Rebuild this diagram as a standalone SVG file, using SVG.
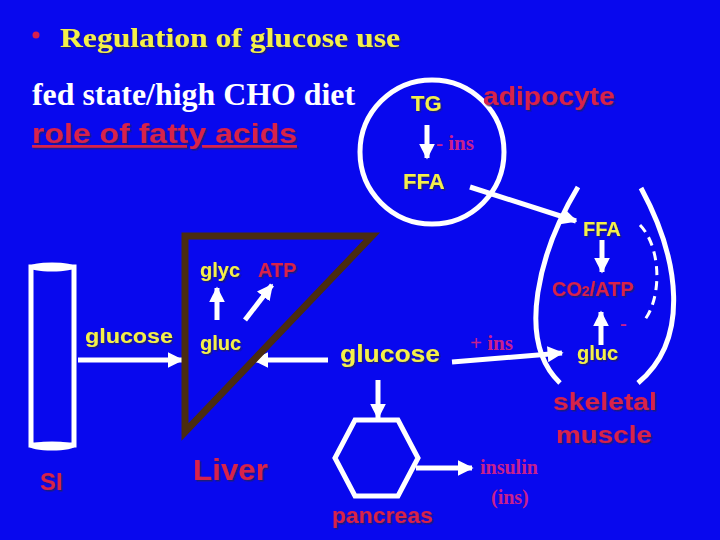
<svg xmlns="http://www.w3.org/2000/svg" width="720" height="540" viewBox="0 0 720 540">
<defs>
<marker id="ah" viewBox="0 0 10 10" refX="9" refY="5" markerWidth="3.2" markerHeight="3.2" orient="auto" markerUnits="strokeWidth"><path d="M0,0L10,5L0,10z" fill="#fff"/></marker>
<filter id="sh" x="-10%" y="-10%" width="120%" height="130%"><feDropShadow dx="1.5" dy="1.5" stdDeviation="0.3" flood-color="#202060" flood-opacity="0.8"/></filter>
</defs>
<style>
.s{font-family:"Liberation Sans",Arial,sans-serif;font-weight:bold;filter:url(#sh)}
.t{font-family:"Liberation Serif","Times New Roman",serif;font-weight:bold}
.y{fill:#f4f048}.r{fill:#d8204c}.m{fill:#c8208c}.w{fill:#fff}
.ln{stroke:#fff;stroke-width:5;fill:none}
.ar{stroke:#fff;stroke-width:5;fill:none;marker-end:url(#ah)}
</style>
<rect width="720" height="540" fill="#0808ee"/>
<g id="title">
<circle cx="36" cy="35" r="3.5" fill="#d8204c"/>
<text class="t y" x="60" y="47" font-size="27" textLength="340" lengthAdjust="spacingAndGlyphs" filter="url(#sh)">Regulation of glucose use</text>
<text class="t w" x="32" y="105" font-size="31" font-weight="normal" textLength="323" lengthAdjust="spacingAndGlyphs">fed state/high CHO diet</text>
<text class="s r" x="32" y="143" font-size="27" font-weight="normal" textLength="265" lengthAdjust="spacingAndGlyphs" text-decoration="underline">role of fatty acids</text>
</g>
<g id="connectors">
<line class="ar" x1="78" y1="360" x2="182" y2="360"/>
<line class="ar" x1="328" y1="360" x2="254" y2="360"/>
<line class="ar" x1="217" y1="320" x2="217" y2="288"/>
<line class="ar" x1="245" y1="320" x2="272" y2="285"/>
<line class="ar" x1="378" y1="380" x2="378" y2="418"/>
<line class="ar" x1="416" y1="468" x2="472" y2="468"/>
<line class="ar" x1="452" y1="362" x2="562" y2="353"/>
<line class="ar" x1="470" y1="187" x2="576" y2="221"/>
<line class="ar" x1="427" y1="125" x2="427" y2="158"/>
<line class="ar" x1="602" y1="240" x2="602" y2="272"/>
<line class="ar" x1="601" y1="345" x2="601" y2="312"/>
<path d="M640,225 C662,248 662,300 643,322" stroke="#fff" stroke-width="3" fill="none" stroke-dasharray="9,6"/>
</g>
<g id="si">
<rect x="31" y="267" width="43" height="178" class="ln"/>
<ellipse cx="52" cy="267" rx="23" ry="4.5" fill="#fff"/>
<ellipse cx="52" cy="446" rx="23" ry="4.5" fill="#fff"/>
<text class="s r" x="40" y="490" font-size="24">SI</text>
<text class="s y" x="85" y="343" font-size="20" textLength="88" lengthAdjust="spacingAndGlyphs">glucose</text>
</g>
<g id="liver">
<polygon points="185,236 372,236 185,432" fill="none" stroke="#4a2c10" stroke-width="7"/>
<text class="s y" x="200" y="277" font-size="20">glyc</text>
<text class="s r" x="258" y="277" font-size="20">ATP</text>
<text class="s y" x="200" y="350" font-size="20">gluc</text>
<text class="s r" x="193" y="480" font-size="29" font-weight="normal" textLength="75" lengthAdjust="spacingAndGlyphs">Liver</text>
</g>
<g id="blood">
<text class="s y" x="340" y="362" font-size="23" textLength="100" lengthAdjust="spacingAndGlyphs">glucose</text>
<text class="t m" x="470" y="350" font-size="21">+ ins</text>
</g>
<g id="pancreas">
<polygon points="355,420 398,420 418,458 398,496 355,496 335,458" class="ln"/>
<text class="s r" x="332" y="523" font-size="22" font-weight="normal" textLength="101" lengthAdjust="spacingAndGlyphs">pancreas</text>
<text class="t m" x="480" y="474" font-size="20">insulin</text>
<text class="t m" x="491" y="504" font-size="20">(ins)</text>
</g>
<g id="adipocyte">
<circle cx="432" cy="152" r="72" class="ln"/>
<text class="s y" x="411" y="111" font-size="22">TG</text>
<text class="t m" x="436" y="150" font-size="21">- ins</text>
<text class="s y" x="403" y="189" font-size="22">FFA</text>
<text class="s r" x="483" y="105" font-size="25" textLength="132" lengthAdjust="spacingAndGlyphs">adipocyte</text>
</g>
<g id="muscle">
<path d="M578,187 C540,250 515,340 560,383" class="ln" stroke-width="4"/>
<path d="M641,188 C680,260 690,340 638,383" class="ln" stroke-width="4"/>
<text class="s y" x="583" y="236" font-size="20">FFA</text>
<text class="s r" x="552" y="296" font-size="20" font-weight="normal">CO<tspan font-size="14">2</tspan>/ATP</text>
<text class="t m" x="620" y="330" font-size="20">-</text>
<text class="s y" x="577" y="360" font-size="20">gluc</text>
<text class="s r" x="553" y="410" font-size="23" textLength="104" lengthAdjust="spacingAndGlyphs">skeletal</text>
<text class="s r" x="556" y="443" font-size="23" textLength="96" lengthAdjust="spacingAndGlyphs">muscle</text>
</g>
</svg>
